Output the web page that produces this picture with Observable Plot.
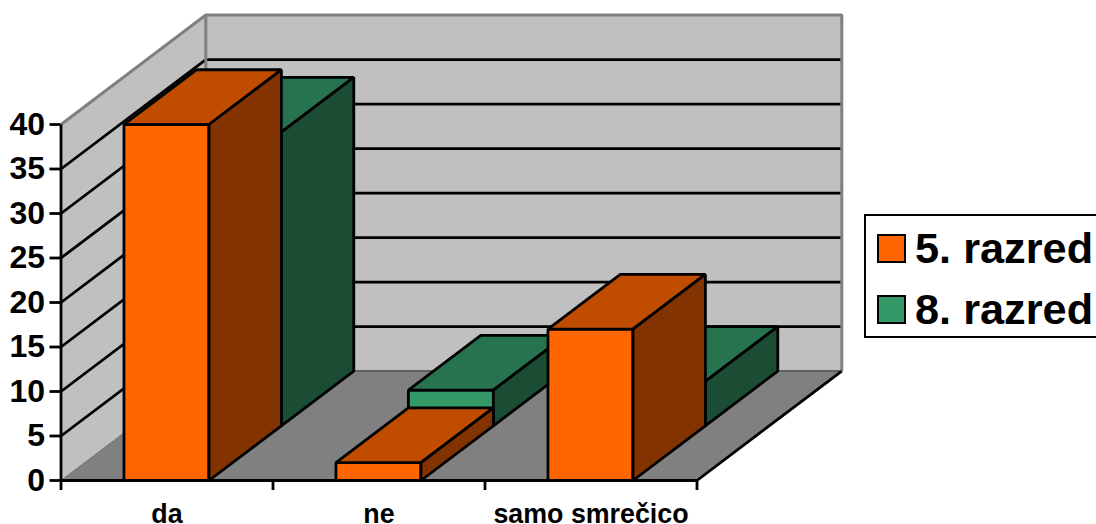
<!DOCTYPE html>
<html><head><meta charset="utf-8">
<script src="https://cdn.jsdelivr.net/npm/d3@7"></script>
<script src="https://cdn.jsdelivr.net/npm/@observablehq/plot@0.6"></script>
<style>
html,body{margin:0;padding:0;background:#fff;overflow:hidden}
#wrap{position:relative;width:1096px;height:524px;overflow:hidden;font-family:"Liberation Sans",Arial,sans-serif}
#legend{position:absolute;left:864px;top:214px;width:240px;height:120px;border:2.5px solid #000;box-sizing:content-box;background:#fff}
.row{position:absolute;left:11px;display:flex;align-items:center;height:30px;font-weight:bold;font-size:43.3px;color:#000;white-space:nowrap}
.sw{width:25px;height:25px;border:2.5px solid #000;margin-right:9px;flex:none}
</style></head><body><div id="wrap"><div id="legend"></div></div>
<script>
const categories = ["da", "ne", "samo smrečico"];
const seriesNames = ["5. razred", "8. razred"];
const razred5 = [40, 2, 17];
const razred8 = [33, 4, 5];
const yTicks = [0, 5, 10, 15, 20, 25, 30, 35, 40];
const xEdges = [0, 1, 2, 3];

const frontColors = ["#ff6600", "#339966"];
const topColors = ["#c04c00", "#277350"];
const sideColors = ["#833300", "#1a4d33"];
const wallColor = "#c0c0c0", floorColor = "#808080";

// oblique projection: one unit of depth moves a point along x and y in data units
const DX = 0.683, DY = 12.3;
const px = d => d[0] + d[1] * DX;
const py = d => d[2] + d[1] * DY;
const shape = (pts, o) => Plot.line([...pts, ...(o.closed === false ? [] : [pts[0]])], {
  x: px, y: py, fill: o.fill ?? "none", stroke: o.stroke ?? "none",
  strokeWidth: o.sw ?? 2.8, strokeLinejoin: "miter", strokeLinecap: "butt", curve: "linear"
});
const edge = (pts, stroke, sw) => shape(pts, {closed: false, stroke, sw});

const X = 3, T = 40;
const marks = [];
// floor and walls
marks.push(shape([[0,0,0],[X,0,0],[X,1,0],[0,1,0]], {fill: floorColor}));
marks.push(shape([[0,0,0],[0,1,0],[0,1,T],[0,0,T]], {fill: wallColor}));
marks.push(shape([[0,1,0],[X,1,0],[X,1,T],[0,1,T]], {fill: wallColor}));
// gridlines
for (const v of yTicks.slice(1, -1)) marks.push(edge([[0,0,v],[0,1,v],[X,1,v]], "#000", 2.8));
// wall borders
marks.push(edge([[0,0,0],[0,1,0]], "#6e6e6e", 1));
marks.push(edge([[0,1,0],[X,1,0]], "#606060", 2));
marks.push(edge([[0,0,T],[0,1,T],[X,1,T],[X,1,0]], floorColor, 3));
marks.push(edge([[0,1,0],[0,1,T]], floorColor, 3));
marks.push(edge([[X,0,0],[X,1,0]], "#000", 2.8));

// bars, back series first
const bar = (i, s, v) => {
  const x0 = i + 0.297, x1 = i + 0.698, d0 = s * 0.5, d1 = d0 + 0.5;
  marks.push(shape([[x0,d0,0],[x1,d0,0],[x1,d0,v],[x0,d0,v]], {fill: frontColors[s], stroke: "#000"}));
  marks.push(shape([[x0,d0,v],[x1,d0,v],[x1,d1,v],[x0,d1,v]], {fill: topColors[s], stroke: "#000"}));
  marks.push(shape([[x1,d0,0],[x1,d1,0],[x1,d1,v],[x1,d0,v]], {fill: sideColors[s], stroke: "#000"}));
};
razred8.forEach((v, i) => bar(i, 1, v));
razred5.forEach((v, i) => bar(i, 0, v));

// axes
marks.push(edge([[0,0,0],[0,0,T]], "#000", 2.8));
marks.push(edge([[0,0,0],[X,0,0]], "#000", 2.8));
marks.push(Plot.axisY({ticks: yTicks, tickSize: 11, tickPadding: 5, label: null, fontSize: 32, fontWeight: "bold", strokeWidth: 2.8, fill: "#000", stroke: "#000"}));
marks.push(Plot.axisX({ticks: xEdges, tickSize: 10, tickFormat: () => "", label: null, strokeWidth: 2.8, stroke: "#000"}));
marks.push(Plot.text(categories, {x: (d, i) => i + 0.5, y: 0, text: d => d, dy: 34, fontSize: 26.8, fontWeight: "bold", fill: "#000"}));

const chart = Plot.plot({
  width: 1096, height: 524,
  marginLeft: 60.5, marginRight: 399.5, marginTop: 124, marginBottom: 44,
  x: {domain: [0, 3]}, y: {domain: [0, 40]},
  style: {fontFamily: '"Liberation Sans", Arial, sans-serif', background: "transparent", overflow: "visible"},
  marks
});
document.getElementById("wrap").prepend(chart);

const legend = document.getElementById("legend");
seriesNames.forEach((n, i) => {
  const r = document.createElement("div");
  r.className = "row";
  r.style.top = (i === 0 ? 17 : 78) + "px";
  const s = document.createElement("div");
  s.className = "sw"; s.style.background = frontColors[i];
  const t = document.createElement("span"); t.textContent = n;
  r.append(s, t); legend.append(r);
});
</script></body></html>
